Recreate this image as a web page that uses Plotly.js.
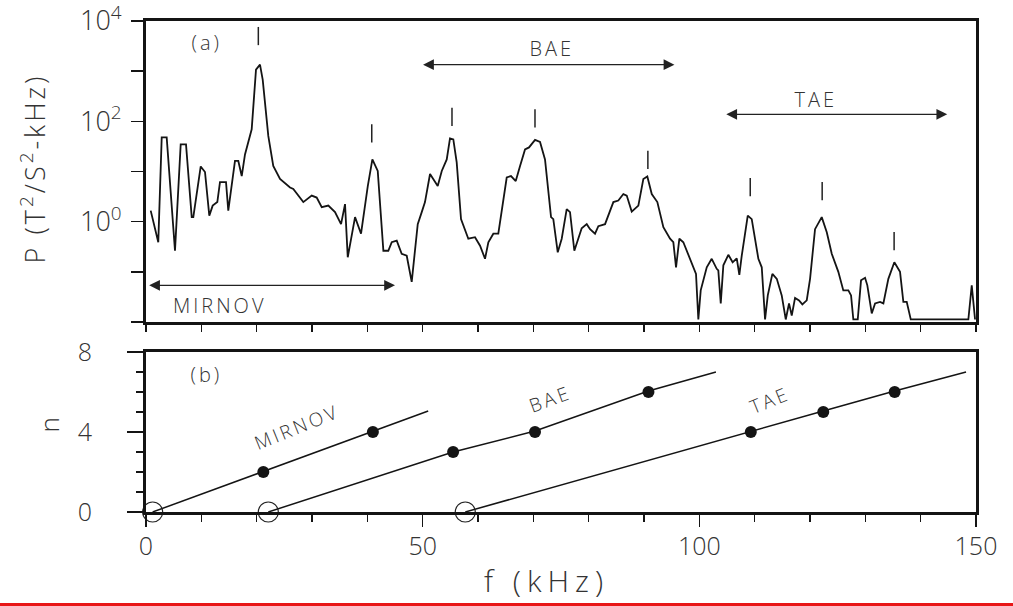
<!DOCTYPE html>
<html><head><meta charset="utf-8">
<script src="https://cdn.plot.ly/plotly-3.0.1.min.js"></script>
<style>
html,body{margin:0;padding:0;background:#fff}
#chart{width:1013px;height:606px}
#chart .annotation-text{letter-spacing:3px}
#chart text[data-unformatted^="f"]{letter-spacing:6px}
</style>
</head><body><div id="chart"></div>
<script>
// ---- panel (a): power spectrum, frequency in kHz, value = log10(P)
const freq = [0.85,2.22,2.84,3.74,5.24,6.27,7.23,8.26,8.55,9.89,10.66,11.44,12.05,12.89,13.37,14.46,14.87,16.08,16.68,17.30,17.89,19.10,19.88,20.60,21.09,22.10,23.00,24.22,26.03,26.62,28.43,29.95,30.85,31.76,32.95,34.16,35.25,35.97,36.46,37.78,38.86,40.08,40.91,41.88,42.90,43.79,44.41,45.31,46.21,47.12,48.02,49.11,49.83,50.42,51.33,52.72,53.45,54.35,54.94,55.54,56.15,56.93,58.25,59.46,60.37,61.27,61.87,62.77,63.67,65.19,65.97,66.82,67.60,68.50,69.22,70.31,71.21,72.11,73.20,73.61,74.41,75.13,76.03,76.63,77.41,78.74,79.65,80.25,81.15,81.75,82.96,84.46,85.36,86.27,86.88,87.78,88.98,89.88,90.60,91.40,92.41,93.50,94.71,95.30,95.79,96.39,97.11,97.72,98.63,99.40,99.82,100.25,101.34,102.24,103.14,103.43,103.87,104.34,105.24,106.02,106.76,107.23,107.66,108.75,109.47,110.67,111.28,111.88,112.37,113.20,114.00,114.89,115.62,116.21,116.70,117.30,118.02,118.62,119.41,120.01,120.91,122.12,123.03,123.93,125.12,126.02,126.93,127.42,127.83,128.63,129.22,129.95,130.36,131.16,131.76,132.66,133.26,134.16,135.24,136.27,136.87,137.48,138.21,148.62,149.23,149.83];
const log10P = [0.22,-0.41,1.68,1.68,-0.58,1.54,1.54,0.09,0.09,1.10,0.99,0.12,0.32,0.39,0.79,0.79,0.22,1.21,1.21,0.91,1.34,1.84,3.03,3.13,2.83,1.71,1.11,0.85,0.68,0.65,0.39,0.52,0.48,0.29,0.32,0.19,-0.05,0.35,-0.71,0.09,-0.24,0.71,1.24,1.01,-0.58,-0.58,-0.41,-0.38,-0.64,-0.68,-1.20,-0.05,0.19,0.39,0.95,0.71,1.01,1.24,1.66,1.64,1.18,0.05,-0.34,-0.31,-0.48,-0.74,-0.41,-0.24,-0.24,0.88,0.91,0.81,1.11,1.44,1.48,1.63,1.59,1.24,0.09,0.05,-0.61,-0.34,0.25,0.19,-0.58,-0.13,-0.05,-0.15,-0.24,-0.09,-0.05,0.39,0.42,0.55,0.52,0.20,0.32,0.85,0.90,0.55,0.39,-0.11,-0.34,-0.41,-0.91,-0.34,-0.41,-0.58,-0.81,-1.04,-1.95,-1.37,-0.91,-0.74,-0.94,-0.97,-1.63,-0.87,-0.66,-0.81,-0.73,-1.06,-0.68,0.12,0.05,-0.74,-0.91,-1.95,-1.47,-1.04,-1.14,-1.47,-1.95,-1.63,-1.87,-1.52,-1.57,-1.65,-1.57,-1.14,-0.15,0.09,-0.21,-0.64,-1.00,-1.37,-1.37,-1.47,-1.95,-1.95,-1.17,-1.12,-1.27,-1.83,-1.63,-1.60,-1.63,-1.14,-0.81,-1.00,-1.60,-1.60,-1.95,-1.95,-1.27,-1.95];
// peak marks ("|") above the identified peaks
const peakF = [20.3,40.8,55.3,70.3,90.7,109.2,122.2,135.2];
const peakMarkL = [3.70,1.76,2.09,2.06,1.23,0.69,0.61,-0.39];
// axis ticks of panel (a)
const yTickVals = [-2,-1,0,1,2,3,4];
const yTickText = ['','','10<sup>0</sup>','','10<sup>2</sup>','','10<sup>4</sup>'];

// ---- panel (b): toroidal mode number n vs frequency
const mirLineF = [1.2,51.0], mirLineN = [0,5.05];
const baeLineF = [22.1,55.5,70.3,90.8,103.0], baeLineN = [0,3.0,4.05,6.05,7.0];
const taeLineF = [57.7,109.3,122.4,135.3,148.2], taeLineN = [0,4.05,5.05,6.05,7.0];
const dotF = [21.2,41.0,55.5,70.3,90.8,109.3,122.4,135.3];
const dotN = [2,4,3,4,6,4,5,6];
const openF = [1.2,22.1,57.7];
const openN = [0,0,0];
const xTickVals2 = [0,50,100,150];
const xTickText2 = ['0','50','100','150'];
const yTickVals2 = [0,4,8];
const yTickText2 = ['0','4','8'];

const ink = '#141414';
const txt = '#333';
const FONT = '"Open Sans", "DejaVu Sans", sans-serif';
const W = 300;

const traces = [
  {x: freq, y: log10P, xaxis:'x', yaxis:'y', mode:'lines', line:{color:ink, width:1.8}, hoverinfo:'skip'},
  {x: peakF, y: peakMarkL, xaxis:'x', yaxis:'y', mode:'markers', marker:{symbol:'line-ns', size:13, line:{color:'#222', width:1.5}}},
  {x: mirLineF, y: mirLineN, xaxis:'x2', yaxis:'y2', mode:'lines', line:{color:ink, width:1.5}, cliponaxis:false},
  {x: baeLineF, y: baeLineN, xaxis:'x2', yaxis:'y2', mode:'lines', line:{color:ink, width:1.5}, cliponaxis:false},
  {x: taeLineF, y: taeLineN, xaxis:'x2', yaxis:'y2', mode:'lines', line:{color:ink, width:1.5}, cliponaxis:false},
  {x: dotF, y: dotN, xaxis:'x2', yaxis:'y2', mode:'markers', marker:{symbol:'circle', size:12, color:ink}, cliponaxis:false},
  {x: openF, y: openN, xaxis:'x2', yaxis:'y2', mode:'markers', marker:{symbol:'circle-open', size:20, color:'#222', line:{width:1.2}}, cliponaxis:false}
];

const axBase = {showgrid:false, zeroline:false, showline:true, mirror:true, linewidth:3, linecolor:ink,
  ticks:'outside', tickcolor:ink, tickwidth:1.5, ticklabeloverflow:'allow'};

const arrow = (x0, x1, y, xr, yr) => ({x:x1, y:y, ax:x0, ay:y, xref:xr, yref:yr, axref:xr, ayref:yr,
  text:'', showarrow:true, arrowside:'end+start', arrowhead:2, arrowsize:1.8, arrowwidth:1.2, arrowcolor:'#222'});
const label = (t, x, y, xr, yr, size, ang) => ({text:t, x:x, y:y, xref:xr, yref:yr, showarrow:false,
  xanchor:'center', yanchor:'middle', textangle:ang||0, font:{family:FONT, size:size, color:txt, weight:W}});

const layout = {
  width:1013, height:606,
  margin:{l:146, r:37, t:21, b:94},
  paper_bgcolor:'#fff', plot_bgcolor:'#fff',
  showlegend:false,
  font:{family:FONT, color:txt, weight:W},
  xaxis: Object.assign({}, axBase, {domain:[0,1], anchor:'y', range:[0,150], dtick:10, tick0:0, ticklen:7, showticklabels:false}),
  yaxis: Object.assign({}, axBase, {domain:[0.387,1], anchor:'x', range:[-2,4], tickvals:yTickVals, ticktext:yTickText,
          ticklen:12, tickfont:{family:FONT, size:27, color:txt, weight:W}, ticklabelstandoff:4}),
  xaxis2: Object.assign({}, axBase, {domain:[0,1], anchor:'y2', range:[0,150], tickvals:xTickVals2, ticktext:xTickText2,
          ticklen:12, tickfont:{family:FONT, size:25, color:txt, weight:W}, ticklabelstandoff:-2,
          minor:{dtick:10, tick0:0, ticklen:7, ticks:'outside', tickcolor:ink, tickwidth:1.5, showgrid:false}}),
  yaxis2: Object.assign({}, axBase, {domain:[0,0.3259], anchor:'x2', range:[0,8], tickvals:yTickVals2, ticktext:yTickText2,
          ticklen:16, tickfont:{family:FONT, size:25, color:txt, weight:W}, ticklabelstandoff:30,
          minor:{dtick:1, tick0:0, ticklen:7, ticks:'outside', tickcolor:ink, tickwidth:1.5, showgrid:false}}),
  annotations: [
    arrow(0.3, 45.0, -1.27, 'x', 'y'),
    arrow(49.8, 95.5, 3.13, 'x', 'y'),
    arrow(104.6, 144.8, 2.14, 'x', 'y'),
    label('(a)', 11.0, 3.57, 'x', 'y', 20),
    label('BAE', 73.4, 3.45, 'x', 'y', 20),
    label('TAE', 121.0, 2.44, 'x', 'y', 20),
    label('MIRNOV', 13.3, -1.68, 'x', 'y', 20),
    label('(b)', 11.0, 6.86, 'x2', 'y2', 20),
    label('MIRNOV', 27.3, 4.25, 'x2', 'y2', 19, -22),
    label('BAE', 73.0, 5.67, 'x2', 'y2', 19, -20),
    label('TAE', 112.8, 5.58, 'x2', 'y2', 19, -22),
    label('P (T<sup>2</sup>/S<sup>2</sup>-kHz)', -0.136, 0.699, 'paper', 'paper', 27, -90),
    label('n', -0.117, 0.181, 'paper', 'paper', 26, -90),
    label('f\u00a0(kHz)', 0.483, -0.140, 'paper', 'paper', 30)
  ],
  shapes: [
    {type:'rect', xref:'paper', yref:'paper', x0:-0.2, x1:1.1, y0:-0.1914, y1:-0.1853, fillcolor:'rgb(232,22,22)', line:{width:0}, layer:'above'}
  ]
};

Plotly.newPlot('chart', traces, layout, {displayModeBar:false, staticPlot:true});
</script></body></html>
